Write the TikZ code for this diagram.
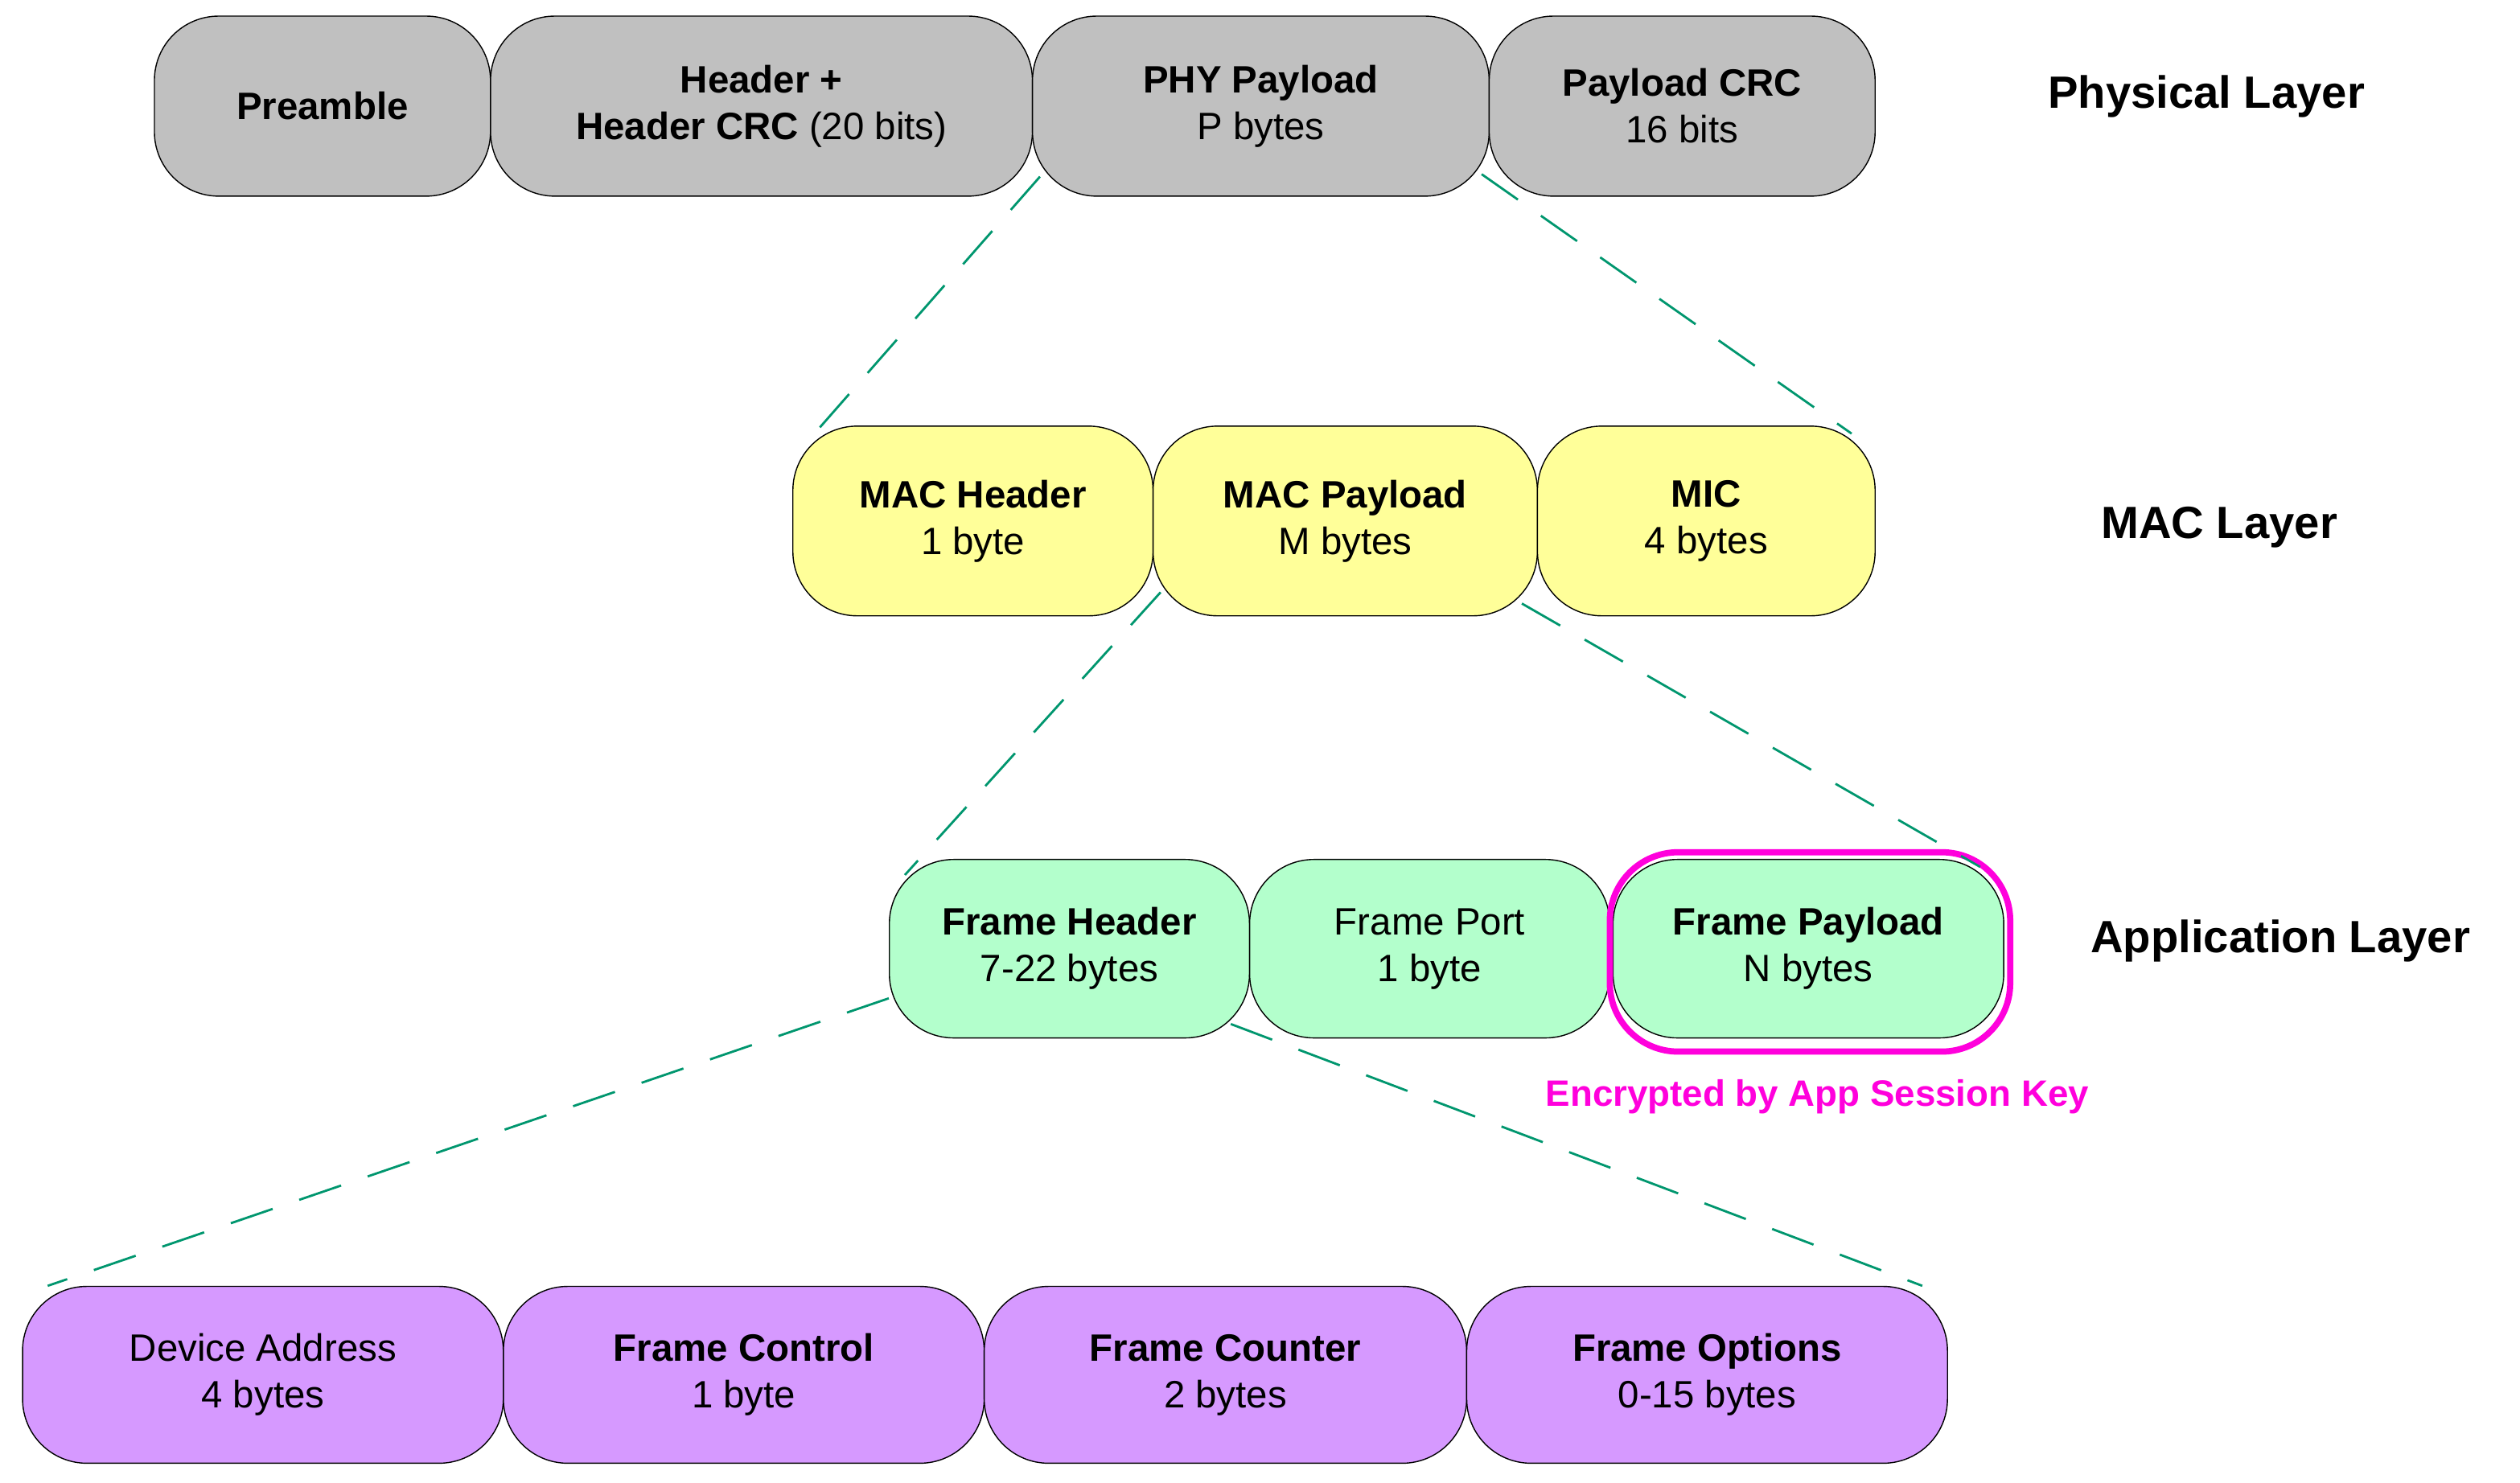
\documentclass[tikz,border=0pt]{standalone}
\usepackage{fontspec}
\setmainfont{Liberation Sans}
\definecolor{phygray}{RGB}{192,192,192}
\definecolor{macyellow}{RGB}{255,255,153}
\definecolor{appgreen}{RGB}{179,255,204}
\definecolor{fhpurple}{RGB}{214,153,255}
\definecolor{linkgreen}{RGB}{0,150,110}
\definecolor{encmagenta}{RGB}{255,0,220}
\begin{document}
\begin{tikzpicture}[
x=0.02cm, y=-0.02cm,
field/.style={draw=black, rounded corners=0.8cm, inner sep=0pt, align=center,
  font=\fontsize{13.5}{16.5}\selectfont},
layer/.style={font=\fontsize{16}{19}\selectfont\bfseries},
link/.style={draw=linkgreen, thick, dash pattern=on 0.55cm off 0.35cm}
]
\useasboundingbox (0,0) rectangle (1567,922);

% physical layer
\node[field, fill=phygray, minimum width=4.18cm, minimum height=2.24cm] at (200.5,66) (pre) {\textbf{Preamble}};
\node[field, fill=phygray, minimum width=6.74cm, minimum height=2.24cm] at (473.5,66) (hdr) {\textbf{Header +}\\\textbf{Header CRC} (20 bits)};
\node[field, fill=phygray, minimum width=5.68cm, minimum height=2.24cm] at (784,66) (phy) {\textbf{PHY Payload}\\P bytes};
\node[field, fill=phygray, minimum width=4.80cm, minimum height=2.24cm] at (1046,66) (crc) {\textbf{Payload CRC}\\16 bits};
\node[layer] at (1372,60) (lphy) {Physical Layer};

% MAC layer
\node[field, fill=macyellow, minimum width=4.48cm, minimum height=2.36cm] at (605,324) (mhdr) {\textbf{MAC Header}\\1 byte};
\node[field, fill=macyellow, minimum width=4.78cm, minimum height=2.36cm] at (836.5,324) (mpay) {\textbf{MAC Payload}\\M bytes};
\node[field, fill=macyellow, minimum width=4.20cm, minimum height=2.36cm] at (1061,324) (mic) {\textbf{MIC}\\4 bytes};
\node[layer] at (1380,328) (lmac) {MAC Layer};

% application layer
\node[field, fill=appgreen, minimum width=4.48cm, minimum height=2.22cm] at (665,590) (fhdr) {\textbf{Frame Header}\\7-22 bytes};
\node[field, fill=appgreen, minimum width=4.48cm, minimum height=2.22cm] at (889,590) (fport) {Frame Port\\1 byte};
\node[field, fill=appgreen, minimum width=4.86cm, minimum height=2.22cm] at (1124.5,590) (fpay) {\textbf{Frame Payload}\\N bytes};
\node[draw=encmagenta, line width=2.2pt, rounded corners=0.85cm, minimum width=4.98cm, minimum height=2.48cm] at (1125.5,592) (enc) {};
\node[text=encmagenta, font=\fontsize{13}{16}\selectfont\bfseries] at (1130,682) (enclbl) {Encrypted by App Session Key};
\node[layer] at (1418,585) (lapp) {Application Layer};

% frame header fields
\node[field, fill=fhpurple, minimum width=5.98cm, minimum height=2.20cm] at (163.5,855) (daddr) {Device Address\\4 bytes};
\node[field, fill=fhpurple, minimum width=5.98cm, minimum height=2.20cm] at (462.5,855) (fctrl) {\textbf{Frame Control}\\1 byte};
\node[field, fill=fhpurple, minimum width=6.00cm, minimum height=2.20cm] at (762,855) (fcnt) {\textbf{Frame Counter}\\2 bytes};
\node[field, fill=fhpurple, minimum width=5.98cm, minimum height=2.20cm] at (1061.5,855) (fopt) {\textbf{Frame Options}\\0-15 bytes};

% expansion lines
\draw[link] ([xshift=0.1cm,yshift=0.25cm]phy.south west) -- ([xshift=0.24cm,yshift=-0.14cm]mhdr.north west);
\draw[link] ([xshift=-0.1cm,yshift=0.28cm]phy.south east) -- ([xshift=-0.3cm,yshift=-0.1cm]mic.north east);
\draw[link] ([xshift=0.1cm,yshift=0.3cm]mpay.south west) -- ([xshift=0.2cm,yshift=-0.2cm]fhdr.north west);
\draw[link] ([xshift=-0.2cm,yshift=0.16cm]mpay.south east) -- ([xshift=-0.3cm,yshift=-0.1cm]fpay.north east);
\draw[link] ([yshift=0.5cm]fhdr.south west) -- ([xshift=0.32cm]daddr.north west);
\draw[link] ([xshift=-0.24cm,yshift=0.18cm]fhdr.south east) -- ([xshift=-0.32cm]fopt.north east);
\end{tikzpicture}
\end{document}
